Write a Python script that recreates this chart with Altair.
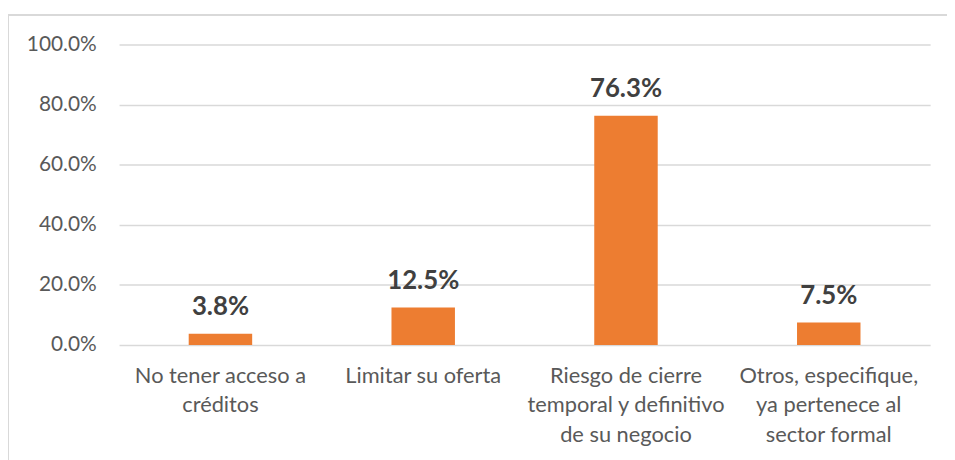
import altair as alt
import pandas as pd

categories = [
    "No tener acceso a\ncréditos",
    "Limitar su oferta",
    "Riesgo de cierre\ntemporal y definitivo\nde su negocio",
    "Otros, especifique,\nya pertenece al\nsector formal",
]
values = [0.038, 0.125, 0.763, 0.075]
labels = ["3.8%", "12.5%", "76.3%", "7.5%"]

df = pd.DataFrame({"cat": categories, "val": values, "lab": labels})

FONT = "Lato"
x = alt.X(
    "cat:N",
    sort=categories,
    title=None,
    scale=alt.Scale(paddingInner=0.687, paddingOuter=0.3435),
    axis=alt.Axis(
        labelExpr="split(datum.label, '\\n')",
        labelAngle=0,
        labelFont=FONT,
        labelFontSize=22,
        labelColor="#595959",
        labelLineHeight=29.5,
        labelPadding=21,
        labelBaseline="top",
        ticks=False,
        domain=False,
        grid=False,
        labelLimit=300,
    ),
)
y = alt.Y(
    "val:Q",
    title=None,
    scale=alt.Scale(domain=[0, 1]),
    axis=alt.Axis(
        format=".1%",
        values=[0, 0.2, 0.4, 0.6, 0.8, 1.0],
        labelFont=FONT,
        labelFontSize=21,
        labelColor="#595959",
        labelPadding=23,
        ticks=False,
        domain=False,
        gridColor="#d9d9d9",
        gridWidth=1.5,
    ),
)

bars = alt.Chart(df).mark_bar(color="#ED7D31").encode(x=x, y=y)
text = alt.Chart(df).mark_text(
    font=FONT, fontSize=26, fontWeight="bold", color="#404040",
    baseline="alphabetic", dy=-19,
).encode(x=x, y=y, text="lab:N")

border = alt.Chart(df).mark_rule(color="#d9d9d9", strokeWidth=2, clip=False).encode(
    x=alt.value(-112), x2=alt.value(-112), y=alt.value(-30), y2=alt.value(420)
)
border_top = alt.Chart(df).mark_rule(color="#d9d9d9", strokeWidth=2, clip=False).encode(
    x=alt.value(-112), x2=alt.value(840), y=alt.value(-30), y2=alt.value(-30)
)

chart = alt.layer(border, border_top, bars, text).properties(
    width=818,
    height=303,
    autosize=alt.AutoSizeParams(type="none"),
    padding={"left": 112, "top": 35, "right": 17, "bottom": 114},
    view=alt.ViewBackground(stroke="transparent", strokeWidth=0),
).configure_view(stroke="transparent", strokeWidth=0).configure(background="white")

chart.save("out.html", embed_options={"renderer": "svg", "actions": False})
